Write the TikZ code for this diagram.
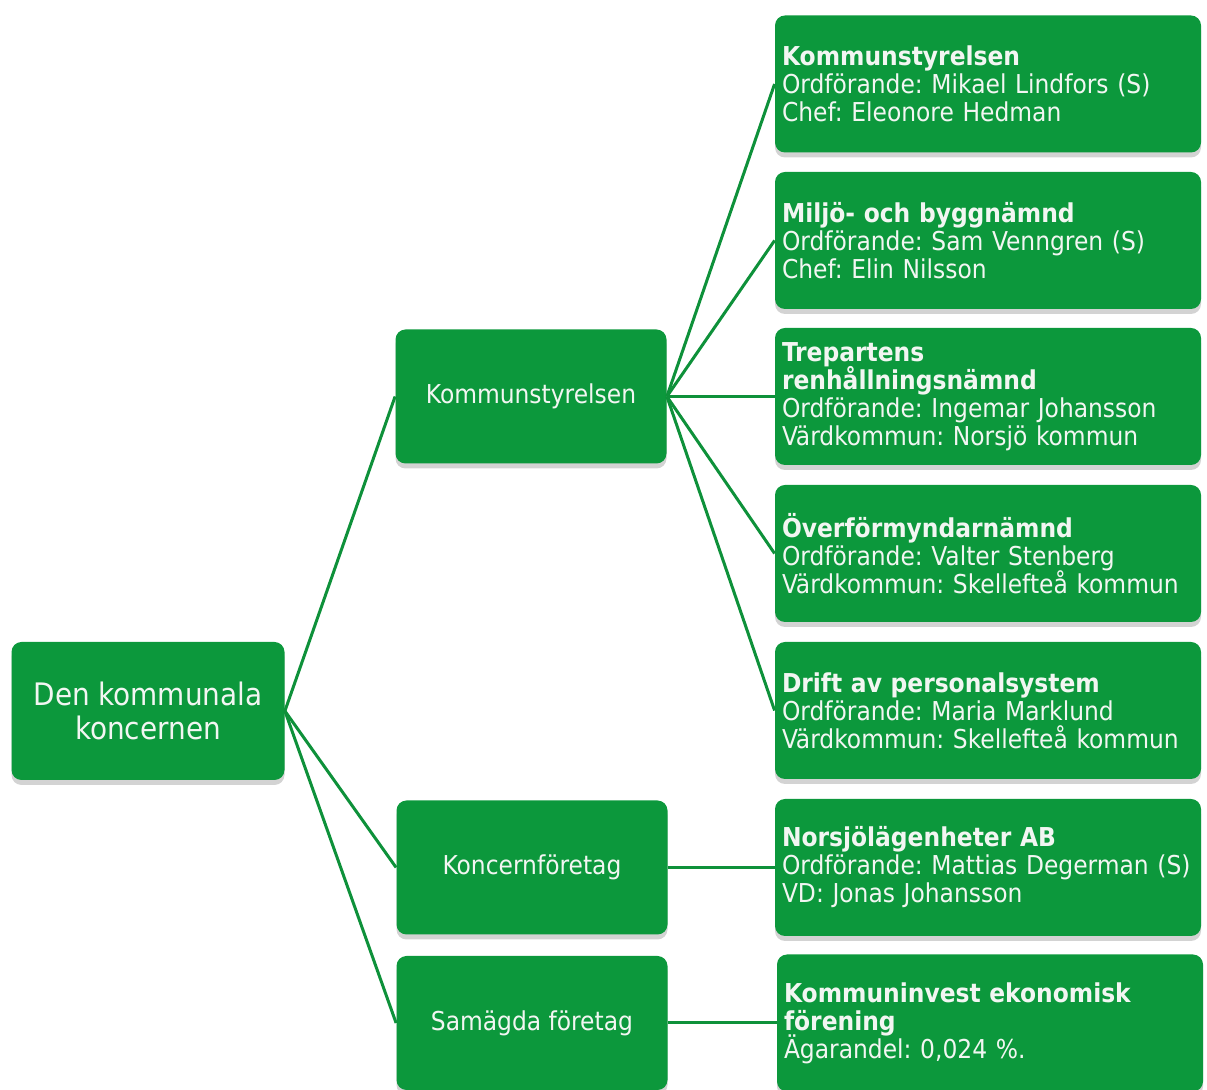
\documentclass[tikz,border=0pt]{standalone}
\usepackage{fontspec}
\setmainfont{DejaVu Sans Condensed}
\frenchspacing
\usetikzlibrary{shadows}
\definecolor{boxgreen}{RGB}{12,152,60}
\definecolor{linegreen}{RGB}{14,145,58}
\definecolor{txtwhite}{RGB}{242,246,242}
\newcommand{\unitfont}{\fontsize{13}{14}\selectfont\setlength{\lineskiplimit}{-6pt}}
\begin{document}
\begin{tikzpicture}[x=0.5pt,y=-0.5pt]
    \tikzstyle{box} = [rectangle, fill=boxgreen, rounded corners=5pt, text=txtwhite, drop shadow={opacity=0.35, shadow xshift=0pt, shadow yshift=-2.5pt}]
    \tikzstyle{rootbox} = [box, minimum width=136.5pt, minimum height=69pt, align=center, font=\fontsize{15.5}{17}\selectfont]
    \tikzstyle{midbox} = [box, minimum width=135.5pt, minimum height=67pt, align=center, font=\fontsize{13}{15}\selectfont]
    \tikzstyle{unitbox} = [box, text width=206pt, inner xsep=3.5pt, minimum height=68.5pt, align=left, font=\unitfont]
    \tikzstyle{link} = [linegreen, line width=1.5pt]
    \useasboundingbox (0,0) rectangle (1207,1090);

    \node (koncern) [rootbox] at (148,711) {Den kommunala\\ koncernen};
    \node (styrelse) [midbox] at (531,396.5) {Kommunstyrelsen};
    \node (bolag) [midbox] at (532,867.5) {Koncernföretag};
    \node (samagda) [midbox] at (532,1023) {Samägda företag};

    \node (ks) [unitbox] at (988,84) {\textbf{Kommunstyrelsen}\\ Ordförande: Mikael Lindfors (S)\\ Chef: Eleonore Hedman};
    \node (mbn) [unitbox] at (988,240.5) {\textbf{Miljö- och byggnämnd}\\ Ordförande: Sam Venngren (S)\\ Chef: Elin Nilsson};
    \node (renh) [unitbox] at (988,396.5) {\textbf{Trepartens}\\ \textbf{renhållningsnämnd}\\ Ordförande: Ingemar Johansson\\ Värdkommun: Norsjö kommun};
    \node (overf) [unitbox] at (988,553.5) {\textbf{Överförmyndarnämnd}\\ Ordförande: Valter Stenberg\\ Värdkommun: Skellefteå kommun};
    \node (drift) [unitbox] at (988,710.5) {\textbf{Drift av personalsystem}\\ Ordförande: Maria Marklund\\ Värdkommun: Skellefteå kommun};
    \node (norsjo) [unitbox] at (988,867.5) {\textbf{Norsjölägenheter AB}\\ Ordförande: Mattias Degerman (S)\\ VD: Jonas Johansson};
    \node (kinvest) [unitbox] at (990,1023) {\textbf{Kommuninvest ekonomisk}\\ \textbf{förening}\\ Ägarandel: 0,024 \%.};

    \draw [link] (koncern.east) -- (styrelse.west);
    \draw [link] (koncern.east) -- (bolag.west);
    \draw [link] (koncern.east) -- (samagda.west);
    \draw [link] (styrelse.east) -- (ks.west);
    \draw [link] (styrelse.east) -- (mbn.west);
    \draw [link] (styrelse.east) -- (renh.west);
    \draw [link] (styrelse.east) -- (overf.west);
    \draw [link] (styrelse.east) -- (drift.west);
    \draw [link] (bolag.east) -- (norsjo.west);
    \draw [link] (samagda.east) -- (kinvest.west);

\end{tikzpicture}
\end{document}
